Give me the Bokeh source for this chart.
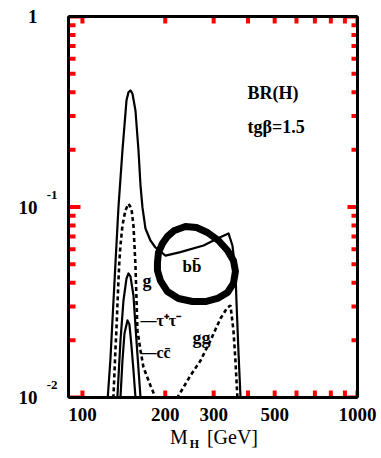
from bokeh.plotting import figure
from bokeh.models import (LogAxis, FixedTicker, CustomJSTickFormatter, Label, Range1d,
                          ColumnDataSource)
from bokeh.embed import file_html
from bokeh.resources import INLINE

# ---------------- data ----------------
X_MIN, X_MAX = 89, 1000
Y_MIN, Y_MAX = 0.01, 1.0

x_major = [100, 200, 300, 400, 500, 600, 700, 800, 900, 1000]
x_labelled = [100, 200, 300, 500, 1000]
y_major = [0.01, 0.1, 1.0]
y_minor = [0.02, 0.03, 0.04, 0.05, 0.06, 0.07, 0.08, 0.09,
           0.2, 0.3, 0.4, 0.5, 0.6, 0.7, 0.8, 0.9]
y_exponents = {0.1: "-1", 0.01: "-2"}
x_title = ["M", "H", "[GeV]"]

# b bbar (solid)
bb_mass = [123.0, 126.4, 128.5, 131.8, 135.2, 139.8, 144.6, 147.0, 149.5, 152.0,
           155.9, 159.9, 162.6, 165.3, 169.5, 176.7, 184.3, 200.5, 227.0, 275.7,
           309.6, 339.7, 351.0, 360.0, 363.0, 369.0, 375.6, 378.0]
bb_br = [0.009, 0.0158, 0.025, 0.05, 0.0995, 0.198, 0.362, 0.40, 0.409, 0.394,
         0.321, 0.198, 0.130, 0.0995, 0.0771, 0.0667, 0.0613, 0.0556, 0.058, 0.0628,
         0.0684, 0.0727, 0.0628, 0.0464, 0.0323, 0.0177, 0.01, 0.009]

# thick closed curve
loop_mass = [187.4, 189.0, 195.4, 203.7, 216.0, 236.9, 259.8, 284.8, 312.3, 336.8,
             354.0, 360.0, 354.0, 336.8, 309.7, 280.1, 251.2, 223.4, 203.7, 192.1,
             187.4, 187.4]
loop_br = [0.0511, 0.0577, 0.0643, 0.0700, 0.0753, 0.0790, 0.0780, 0.0735, 0.0667, 0.0591,
           0.0524, 0.0459, 0.0397, 0.0356, 0.0331, 0.0319, 0.0319, 0.0331, 0.0360, 0.0411,
           0.0464, 0.0511]

# dashed curve (gg)
gg_mass = [129.1, 129.6, 131.8, 132.9, 135.2, 136.3, 137.5, 139.8, 143.3, 147.0,
           150.7, 153.3, 154.6, 155.9, 156.5, 158.5, 162.6, 166.7, 176.7, 184.3,
           202.0, 221.6, 247.0, 268.6, 292.0, 317.6, 336.8, 345.4, 354.0, 360.0,
           366.0, 369.0]
gg_br = [0.0091, 0.01, 0.0177, 0.0225, 0.0411, 0.0524, 0.0628, 0.0799, 0.0959, 0.104,
         0.0983, 0.0799, 0.0628, 0.0493, 0.0411, 0.0225, 0.0177, 0.0144, 0.01156, 0.01,
         0.0085, 0.01, 0.01304, 0.0156, 0.0199, 0.0260, 0.0297, 0.0304, 0.0225, 0.0156,
         0.01, 0.0085]

# tau+ tau-
tau_mass = [133.5, 134.0, 137.5, 141.0, 144.6, 147.0, 149.5, 153.3, 157.2, 162.6, 163.5]
tau_br = [0.009, 0.01, 0.0199, 0.0323, 0.0421, 0.0448, 0.0432, 0.0343, 0.0199, 0.01, 0.009]

# c cbar
cc_mass = [137.0, 137.5, 139.8, 142.2, 145.8, 148.2, 150.7, 153.3, 155.9, 156.5]
cc_br = [0.009, 0.01, 0.0156, 0.0217, 0.0254, 0.0242, 0.0188, 0.0139, 0.01, 0.009]

SERIF = "Liberation Serif"
PX_PER_DECADE_Y = 190.5
PX_PER_DECADE_X = 275.0

# ---------------- figure ----------------
p = figure(width=381, height=458, x_axis_type="log", y_axis_type="log",
           x_range=Range1d(X_MIN, X_MAX), y_range=Range1d(Y_MIN, Y_MAX),
           output_backend="svg", toolbar_location=None,
           min_border_left=68, min_border_right=24, min_border_top=16,
           min_border_bottom=61)
p.xgrid.grid_line_color = None
p.ygrid.grid_line_color = None
p.outline_line_color = "black"
p.outline_line_width = 2

blank = CustomJSTickFormatter(code="return '';")


def style(ax, size="19px", bold=True):
    ax.axis_line_width = 3
    ax.axis_line_color = "black"
    ax.major_tick_in = 0
    ax.major_tick_out = 0
    ax.minor_tick_in = 0
    ax.minor_tick_out = 0
    ax.major_tick_line_color = None
    ax.minor_tick_line_color = None
    ax.major_label_text_font = SERIF
    ax.major_label_text_font_size = size
    ax.major_label_text_font_style = "bold" if bold else "normal"
    ax.major_label_text_color = "black"


def text_only(ax):
    ax.axis_line_color = None


xa = p.xaxis[0]
xa.ticker = FixedTicker(ticks=x_major, minor_ticks=[])
xa.formatter = CustomJSTickFormatter(
    args=dict(lab=x_labelled),
    code="return lab.includes(Math.round(tick)) ? String(Math.round(tick)) : '';")
style(xa)
xa.major_label_standoff = 10

t_pos = [10 ** (2 + 96.5 / PX_PER_DECADE_X), 10 ** (2 + 150 / PX_PER_DECADE_X)]
title1 = LogAxis(ticker=FixedTicker(ticks=t_pos, minor_ticks=[]),
                 formatter=CustomJSTickFormatter(
                     args=dict(a=x_title[0], b=x_title[2]),
                     code="return tick < 300 ? a : b;"))
style(title1, "20px", False)
text_only(title1)
title1.major_label_standoff = 2
p.add_layout(title1, "below")

title2 = LogAxis(ticker=FixedTicker(ticks=[10 ** (2 + 112 / PX_PER_DECADE_X)], minor_ticks=[]),
                 formatter=CustomJSTickFormatter(args=dict(h=x_title[1]), code="return h;"))
style(title2, "12px", True)
text_only(title2)
title2.major_label_standoff = -14
p.add_layout(title2, "below")

ya = p.yaxis[0]
ya.ticker = FixedTicker(ticks=y_major, minor_ticks=y_minor)
ya.formatter = blank
style(ya)
ya.major_label_text_font_size = "0px"
ya.major_label_standoff = 0

raise_f = 10 ** (12.5 / PX_PER_DECADE_Y)
exp_ticks = [v * raise_f for v in y_exponents]
exp_ax = LogAxis(ticker=FixedTicker(ticks=exp_ticks, minor_ticks=[]),
                 formatter=CustomJSTickFormatter(
                     args=dict(e1=y_exponents[0.1], e2=y_exponents[0.01]),
                     code="return tick > 0.05 ? e1 : e2;"))
style(exp_ax, "13px", True)
text_only(exp_ax)
exp_ax.major_label_standoff = 11
p.add_layout(exp_ax, "left")

man_ax = LogAxis(ticker=FixedTicker(ticks=y_major, minor_ticks=[]),
                 formatter=CustomJSTickFormatter(code="return tick > 0.5 ? '1' : '10';"))
style(man_ax, "19px", True)
text_only(man_ax)
man_ax.major_label_standoff = 6
p.add_layout(man_ax, "left")

top = LogAxis(ticker=FixedTicker(ticks=x_major, minor_ticks=[]), formatter=blank)
style(top)
top.major_label_text_font_size = "0px"
top.major_label_standoff = 0
p.add_layout(top, "above")

right = LogAxis(ticker=FixedTicker(ticks=y_major, minor_ticks=y_minor), formatter=blank)
style(right)
right.major_label_text_font_size = "0px"
right.major_label_standoff = 0
p.add_layout(right, "right")


def fx(px):
    return 10 ** (px / PX_PER_DECADE_X)


def fy(px):
    return 10 ** (px / PX_PER_DECADE_Y)


# tick marks (diagnostic colour)
tx0, tx1, ty0, ty1 = [], [], [], []
for vals, length, side in [(y_major, 12, "left"), (y_minor, 7, "left"),
                           (y_major, 10, "right"), (y_minor, 6, "right"),
                           (x_major, 7, "below"), (x_major, 7, "above")]:
    for v in vals:
        if side == "left":
            tx0.append(X_MIN); tx1.append(X_MIN * fx(length)); ty0.append(v); ty1.append(v)
        elif side == "right":
            tx0.append(X_MAX); tx1.append(X_MAX / fx(length)); ty0.append(v); ty1.append(v)
        elif side == "below":
            tx0.append(v); tx1.append(v); ty0.append(Y_MIN); ty1.append(Y_MIN * fy(length))
        else:
            tx0.append(v); tx1.append(v); ty0.append(Y_MAX); ty1.append(Y_MAX / fy(length))

p.segment(x0=tx0, y0=ty0, x1=tx1, y1=ty1, line_color="red", line_width=4)

p.line(x="m", y="br", source=ColumnDataSource(dict(m=loop_mass, br=loop_br)),
       line_color="black", line_width=7, line_join="round", line_cap="round")
p.line(x="m", y="br", source=ColumnDataSource(dict(m=bb_mass, br=bb_br)),
       line_color="black", line_width=2.2, line_join="round")
p.line(x="m", y="br", source=ColumnDataSource(dict(m=gg_mass, br=gg_br)),
       line_color="black", line_width=2.6, line_dash="4 3")
p.line(x="m", y="br", source=ColumnDataSource(dict(m=tau_mass, br=tau_br)),
       line_color="black", line_width=2.2, line_join="round")
p.line(x="m", y="br", source=ColumnDataSource(dict(m=cc_mass, br=cc_br)),
       line_color="black", line_width=2.2, line_join="round")


def lab(text, x, y, size, bold=False):
    p.add_layout(Label(x=x, y=y, text=text,
                       text_font=SERIF, text_font_size=size,
                       text_font_style="bold" if bold else "normal",
                       text_color="black", text_baseline="middle", text_align="left"))


lab("BR(H)", 398, 0.399, "18px", True)
lab("tgβ=1.5", 398, 0.2615, "18px", True)
lab("g", 165.3, 0.0411, "18px", True)
lab("—τ⁺τ⁻", 162.6, 0.0254, "16px", True)
lab("—cc̄", 162.6, 0.0172, "16px", True)
lab("gg", 251.2, 0.0206, "18px", True)
lab("bb̄", 231.0, 0.0487, "17px", True)

open("out.html", "w").write(file_html(p, INLINE))
